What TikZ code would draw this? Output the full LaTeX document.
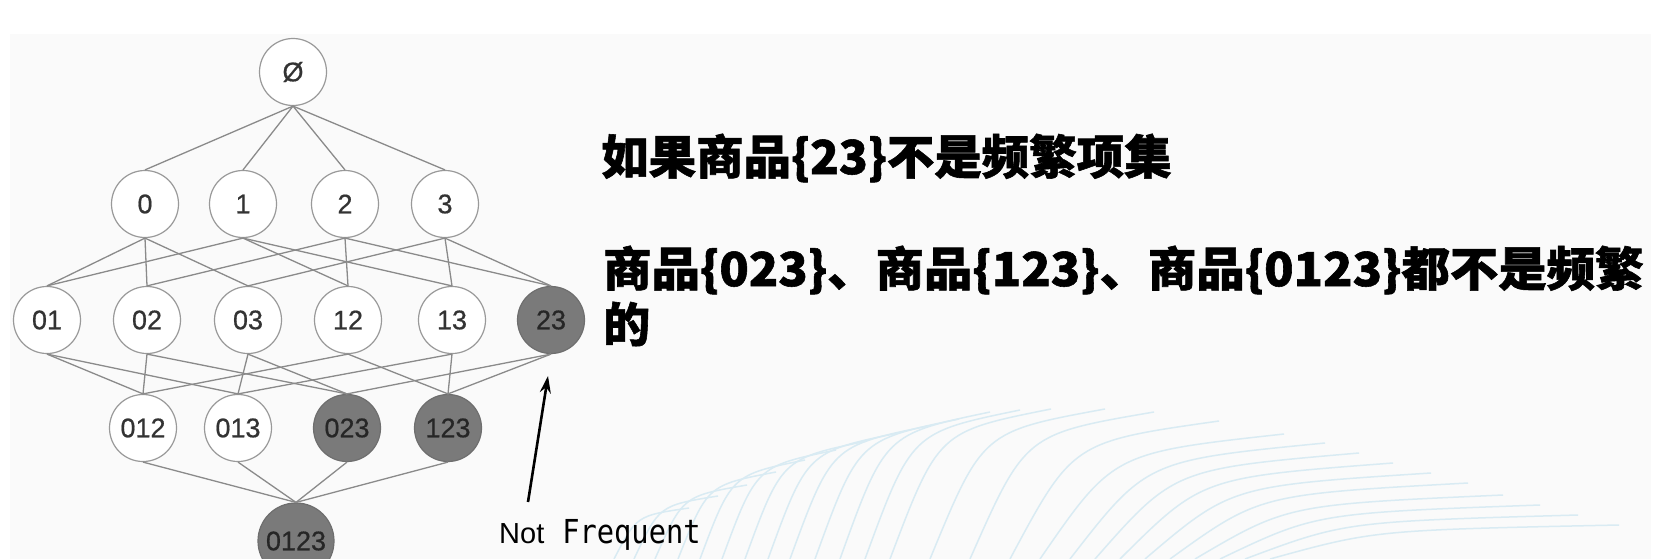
\documentclass[tikz,border=0pt]{standalone}
\usepackage{fontspec}
\usepackage{graphicx}
\setmainfont{Liberation Sans}
\newfontfamily\nodefont{Liberation Sans}[FakeBold=0.6]
\newfontfamily\monofont{DejaVu Sans Mono}
\newfontfamily\cjk{Noto Sans CJK SC}[BoldFeatures={FakeBold=1.2}]
\usetikzlibrary{arrows.meta}
\definecolor{edgec}{HTML}{8A8A8A}
\definecolor{circc}{HTML}{999999}
\definecolor{darkc}{HTML}{7A7A7A}
\definecolor{darkb}{HTML}{6E6E6E}
\definecolor{txtc}{HTML}{333333}
\definecolor{txtd}{HTML}{262626}
\definecolor{panelc}{HTML}{FAFAFA}
\definecolor{wavec}{HTML}{D9EBF3}
\begin{document}
\begin{tikzpicture}[x=1pt,y=-1pt,
  itemset/.style={circle, draw=circc, line width=1.2pt, minimum size=67pt, inner sep=0pt,
    font=\nodefont\fontsize{27}{27}\selectfont, text=txtc, fill=white},
  infreq/.style={itemset, fill=darkc, draw=darkb, text=txtd},
  edge/.style={draw=edgec, line width=1.3pt},
  wave/.style={draw=wavec, line width=1.5pt},
  cjktext/.style={anchor=west, inner sep=0pt, font=\cjk\bfseries\fontsize{47}{56}\selectfont, text=black}]
% background
\useasboundingbox (0,0) rectangle (1672,559);
\fill[white] (0,0) rectangle (1672,559);
\fill[panelc] (10,34) rectangle (1651,559);
% decorative waves
\foreach \sx/\tx/\ty in {614/689/508, 634/718/496, 655/747/485, 678/776/472, 700/805/460, 722/836/450, 745/867/441, 768/898/433, 790/928/426, 815/959/419, 840/990/412, 865/1020/410, 890/1051/409, 930/1105/409, 970/1154/412, 1010/1219/421, 1040/1284/434, 1070/1325/443, 1095/1359/453, 1120/1393/463, 1145/1431/473, 1170/1468/483, 1195/1503/495, 1220/1540/505, 1245/1578/515, 1270/1619/525}{
  \pgfmathsetmacro\cx{\sx+0.3*(\tx-\sx)}
  \pgfmathsetmacro\cy{559+0.85*(\ty-559)}
  \draw[wave] (\sx,559) .. controls (\cx,\cy) .. (\tx,\ty);
}
% nodes
\node[itemset] (e) at (293,72) {Ø};
\node[itemset] (n0) at (145,204) {0};
\node[itemset] (n1) at (243,204) {1};
\node[itemset] (n2) at (345,204) {2};
\node[itemset] (n3) at (445,204) {3};
\node[itemset] (n01) at (47,320) {01};
\node[itemset] (n02) at (147,320) {02};
\node[itemset] (n03) at (248,320) {03};
\node[itemset] (n12) at (348,320) {12};
\node[itemset] (n13) at (452,320) {13};
\node[infreq] (n23) at (551,320) {23};
\node[itemset] (n012) at (143,428) {012};
\node[itemset] (n013) at (238,428) {013};
\node[infreq] (n023) at (347,428) {023};
\node[infreq] (n123) at (448,428) {123};
\node[infreq, minimum size=76pt] (n0123) at (296,541) {0123};
% edges
\foreach \c in {n0,n1,n2,n3}{\draw[edge] (e.south) -- (\c.north);}
\foreach \p/\c in {n0/n01,n0/n02,n0/n03,n1/n01,n1/n12,n1/n13,n2/n02,n2/n12,n2/n23,n3/n03,n3/n13,n3/n23}{\draw[edge] (\p.south) -- (\c.north);}
\foreach \p/\c in {n01/n012,n01/n013,n02/n012,n02/n023,n03/n013,n03/n023,n12/n012,n12/n123,n13/n013,n13/n123,n23/n023,n23/n123}{\draw[edge] (\p.south) -- (\c.north);}
\foreach \p in {n012,n013,n023,n123}{\draw[edge] (\p.south) -- (n0123.north);}
% annotation
\node[anchor=base west, inner sep=0pt, font=\fontsize{29}{29}\selectfont, text=black] (nf) at (499,543)
  {Not\hspace{18pt}\scalebox{0.87}[1]{\monofont\fontsize{33}{33}\selectfont Frequent}};
\coordinate (arrS) at (528,502);
\coordinate (arrT) at (548,376);
\draw[line width=2.6pt, -{Stealth[length=17pt, width=11pt]}] (arrS) -- (arrT);
% texts
\node[cjktext] (t1) at (601,158) {\scalebox{1.01}[1]{如果商品\{23\}不是频繁项集}};
\node[cjktext] (t2) at (603,270) {\scalebox{1.03}[1]{商品\{023\}、商品\{123\}、商品\{0123\}都不是频繁}};
\node[cjktext] (t3) at (603,324) {的};
\end{tikzpicture}
\end{document}
